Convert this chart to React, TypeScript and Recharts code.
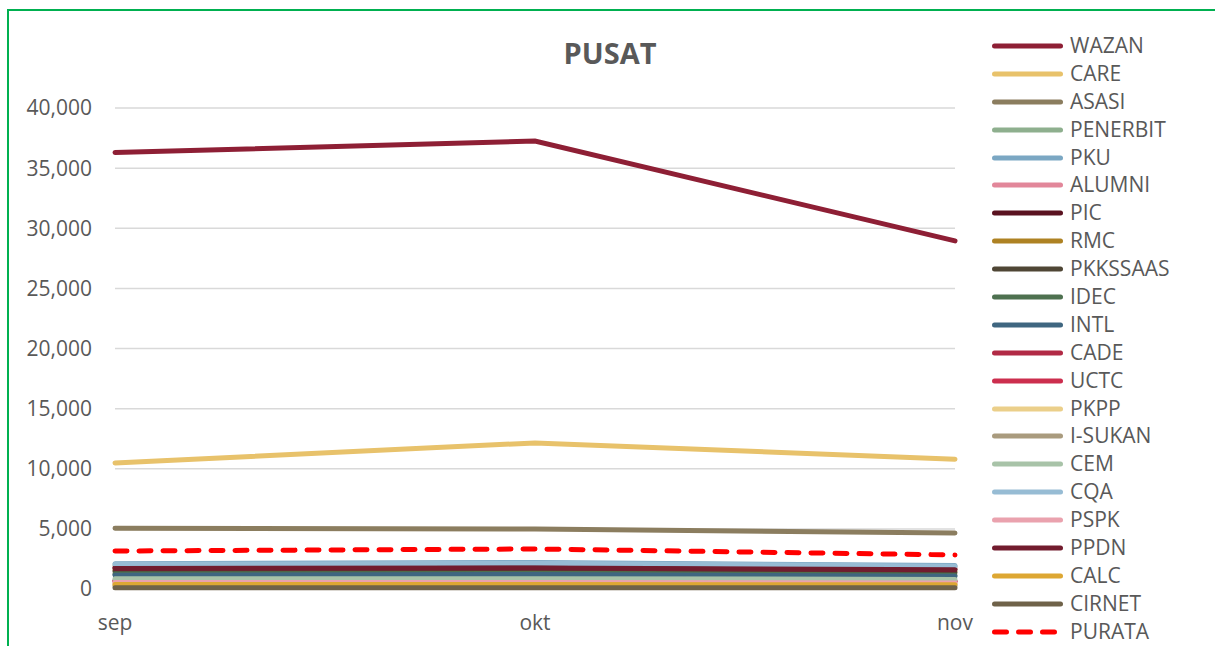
import React from "react";
import { LineChart, Line, XAxis, YAxis, CartesianGrid } from "recharts";

// months on the x axis
const MONTHS = ["sep", "okt", "nov"];

// values, one array per unit (sep, okt, nov)
const WAZAN = [36300, 37250, 28950];
const CARE = [10480, 12150, 10800];
const ASASI = [5060, 4990, 4650];
const PENERBIT = [1950, 2050, 1850];
const PKU = [2100, 2200, 1950];
const ALUMNI = [1850, 1950, 1750];
const PIC = [1750, 1800, 1650];
const RMC = [1550, 1600, 1450];
const PKKSSAAS = [1450, 1500, 1350];
const IDEC = [1250, 1300, 1150];
const INTL = [1150, 1200, 1050];
const CADE = [700, 700, 650];
const UCTC = [650, 650, 600];
const PKPP = [450, 450, 420];
const ISUKAN = [280, 280, 260];
const CEM = [850, 850, 800];
const CQA = [2050, 2150, 1900];
const PSPK = [550, 550, 500];
const PPDN = [1700, 1750, 1600];
const CALC = [380, 380, 350];
const CIRNET = [100, 100, 100];
const PURATA = [3160, 3330, 2830];

const Y_TICKS = [0, 5000, 10000, 15000, 20000, 25000, 30000, 35000, 40000];

const SERIES: { name: string; values: number[]; color: string; dashed?: boolean }[] = [
  { name: "WAZAN", values: WAZAN, color: "#8E1F35" },
  { name: "CARE", values: CARE, color: "#E8C26B" },
  { name: "ASASI", values: ASASI, color: "#8B7D5F" },
  { name: "PENERBIT", values: PENERBIT, color: "#8EAF8E" },
  { name: "PKU", values: PKU, color: "#7BA7C3" },
  { name: "ALUMNI", values: ALUMNI, color: "#E2879A" },
  { name: "PIC", values: PIC, color: "#5A1220" },
  { name: "RMC", values: RMC, color: "#AE8223" },
  { name: "PKKSSAAS", values: PKKSSAAS, color: "#4F4635" },
  { name: "IDEC", values: IDEC, color: "#4E7150" },
  { name: "INTL", values: INTL, color: "#3F6680" },
  { name: "CADE", values: CADE, color: "#B12A45" },
  { name: "UCTC", values: UCTC, color: "#CC2E4E" },
  { name: "PKPP", values: PKPP, color: "#EBCF8A" },
  { name: "I-SUKAN", values: ISUKAN, color: "#A99B7E" },
  { name: "CEM", values: CEM, color: "#A8C3A8" },
  { name: "CQA", values: CQA, color: "#97BCD4" },
  { name: "PSPK", values: PSPK, color: "#EAA2AE" },
  { name: "PPDN", values: PPDN, color: "#721C2E" },
  { name: "CALC", values: CALC, color: "#DDA733" },
  { name: "CIRNET", values: CIRNET, color: "#6F6249" },
  { name: "PURATA", values: PURATA, color: "#FF0000", dashed: true },
];

const data = MONTHS.map((m, i) => {
  const row: Record<string, string | number> = { month: m };
  SERIES.forEach((s) => (row[s.name] = s.values[i]));
  return row;
});

const TEXT = "#595959";
const FONT = "'Open Sans', sans-serif";

/** Excel-style legend: long line sample, label on the right */
function LegendBox() {
  return (
    <div style={{ position: "absolute", left: 989, top: 32, fontFamily: FONT, fontSize: 21, color: TEXT }}>
      {SERIES.map((s) => (
        <div key={s.name} style={{ display: "flex", alignItems: "center", height: 27.9, lineHeight: "27.9px" }}>
          <svg width={77} height={8} style={{ display: "block" }}>
            <line
              x1={5.5} y1={4} x2={s.dashed ? 66 : 71.5} y2={4}
              stroke={s.color} strokeWidth={5} strokeLinecap="round"
              strokeDasharray={s.dashed ? "12 12" : undefined}
            />
          </svg>
          <span style={{ marginLeft: 4, whiteSpace: "nowrap" }}>{s.name}</span>
        </div>
      ))}
    </div>
  );
}

export default function App() {
  return (
    <div style={{ position: "absolute", left: 0, top: 0, width: 1215, height: 646, overflow: "hidden", background: "#fff" }}>
      <div style={{ position: "absolute", left: 7, top: 9, width: 1300, height: 700, border: "2px solid #00B050" }} />
      <div style={{
        position: "absolute", left: 610, top: 33, transform: "translateX(-50%)",
        fontFamily: FONT, fontWeight: 700, fontSize: 29, color: TEXT,
      }}>
        PUSAT
      </div>
      <div style={{ position: "absolute", left: 0, top: 0 }}>
        <LineChart
          width={1215}
          height={646}
          data={data}
          margin={{ top: 108, right: 260, bottom: 0, left: 0 }}
          style={{ fontFamily: FONT }}
        >
          <CartesianGrid vertical={false} stroke="#D9D9D9" strokeWidth={1.5} />
          <XAxis
            dataKey="month"
            axisLine={false}
            tickLine={false}
            tickMargin={20}
            height={57}
            tick={{ fill: TEXT, fontSize: 21 }}
            interval={0}
          />
          <YAxis
            width={115}
            domain={[0, 40000]}
            ticks={Y_TICKS}
            axisLine={false}
            tickLine={false}
            tickMargin={17}
            tick={{ fill: TEXT, fontSize: 21 }}
            tickFormatter={(v: number) => v.toLocaleString("en-US")}
          />
          {SERIES.map((s) => (
            <Line
              key={s.name}
              type="linear"
              dataKey={s.name}
              stroke={s.color}
              strokeWidth={5}
              strokeLinecap="round"
              strokeDasharray={s.dashed ? "12 12" : undefined}
              dot={false}
              activeDot={false}
              isAnimationActive={false}
            />
          ))}
        </LineChart>
      </div>
      <LegendBox />
    </div>
  );
}
